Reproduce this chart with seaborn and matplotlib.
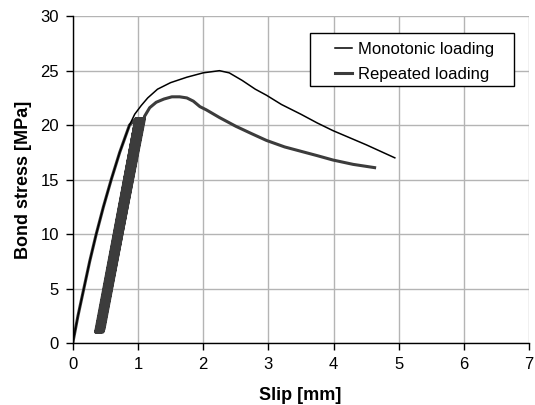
import numpy as np
import pandas as pd
import matplotlib
matplotlib.use("Agg")
import matplotlib.pyplot as plt
import seaborn as sns
from matplotlib.patches import Rectangle

# courbe monotone
mono_slip = [0, 0.08, 0.17, 0.26, 0.36, 0.47, 0.59, 0.72, 0.87, 0.95, 1.05, 1.15, 1.3, 1.5,
             1.75, 2.0, 2.25, 2.4, 2.6, 2.8, 2.97, 3.2, 3.5, 3.75, 3.99, 4.5, 4.94]
mono_stress = [0, 2.5, 5.0, 7.5, 10.0, 12.5, 15.0, 17.5, 20.0, 21.0, 21.8, 22.5, 23.3, 23.9,
               24.4, 24.8, 25.0, 24.8, 24.1, 23.3, 22.75, 21.9, 21.0, 20.2, 19.5, 18.2, 17.0]

# chargement repete : branche initiale
rep_up_slip = [0, 0.08, 0.17, 0.26, 0.36, 0.47, 0.59, 0.72, 0.87, 0.97]
rep_up_stress = [0, 2.5, 5.0, 7.5, 10.0, 12.5, 15.0, 17.5, 20.0, 20.6]

# cycles (pic / residuel)
cyc_peak_slip = [0.97, 0.99, 1.00, 1.02, 1.03, 1.05, 1.06, 1.07, 1.08, 1.09, 1.10]
cyc_res_slip = [0.35, 0.36, 0.37, 0.38, 0.39, 0.40, 0.41, 0.42, 0.43, 0.44, 0.46]
cyc_peak_stress = 20.6
cyc_min_stress = 1.0

# branche post-pic
rep_post_slip = [1.10, 1.18, 1.28, 1.40, 1.52, 1.64, 1.75, 1.85, 1.95, 2.05, 2.25, 2.5,
                 2.75, 2.97, 3.25, 3.5, 3.75, 3.99, 4.3, 4.63]
rep_post_stress = [20.8, 21.6, 22.1, 22.4, 22.6, 22.6, 22.5, 22.2, 21.7, 21.4, 20.7, 19.9,
                   19.2, 18.6, 18.0, 17.6, 17.2, 16.8, 16.4, 16.1]

# construction du chemin du chargement repete
path_x = list(rep_up_slip)
path_y = list(rep_up_stress)
for i in range(len(cyc_res_slip)):
    path_x += [cyc_res_slip[i] + 0.02, cyc_res_slip[i], cyc_peak_slip[i]]
    path_y += [cyc_min_stress + 0.3, cyc_min_stress, cyc_peak_stress]
path_x += rep_post_slip
path_y += rep_post_stress

df_mono = pd.DataFrame({"slip": mono_slip, "stress": mono_stress})
df_rep = pd.DataFrame({"slip": path_x, "stress": path_y})

plt.rcParams["font.family"] = ["Liberation Sans", "DejaVu Sans"]
fig = plt.figure(figsize=(5.35, 4.05), dpi=100)
ax = fig.add_axes([0.136, 0.153, 0.853, 0.807])

sns.lineplot(data=df_mono, x="slip", y="stress", sort=False, estimator=None,
             color="black", lw=1.1, label="Monotonic loading", ax=ax, zorder=3)
sns.lineplot(data=df_rep, x="slip", y="stress", sort=False, estimator=None,
             color="#3c3c3c", lw=2.2, label="Repeated loading", ax=ax, zorder=2)

ax.set_xlim(0, 7)
ax.set_ylim(0, 30)
ax.set_xticks(range(0, 8))
ax.set_yticks(range(0, 31, 5))
ax.grid(True, color="#b4b4b4", lw=1.0)
ax.set_axisbelow(True)
for s in ["top", "right"]:
    ax.spines[s].set_visible(False)
for s in ["left", "bottom"]:
    ax.spines[s].set_color("black")
    ax.spines[s].set_linewidth(1.0)
ax.tick_params(direction="out", length=5, width=1, labelsize=12, colors="black", pad=5)
ax.set_xlabel("Slip [mm]", fontsize=13, fontweight="bold")
ax.set_ylabel("Bond stress [MPa]", fontsize=13, fontweight="bold")
ax.xaxis.set_label_coords(0.498, -0.134)
ax.yaxis.set_label_coords(-0.09, 0.5)

# cadre de la legende
ax.add_patch(Rectangle((0.520, 0.786), 0.447, 0.162, transform=ax.transAxes,
                       facecolor="white", edgecolor="black", lw=1.0, zorder=4))
leg = ax.legend(loc="upper left", bbox_to_anchor=(0.575, 0.922), fontsize=12,
                frameon=False, handlelength=1.0, handletextpad=0.35, borderpad=0,
                labelspacing=0.63, borderaxespad=0)
leg.set_zorder(5)

fig.savefig("out.png", dpi=100)
